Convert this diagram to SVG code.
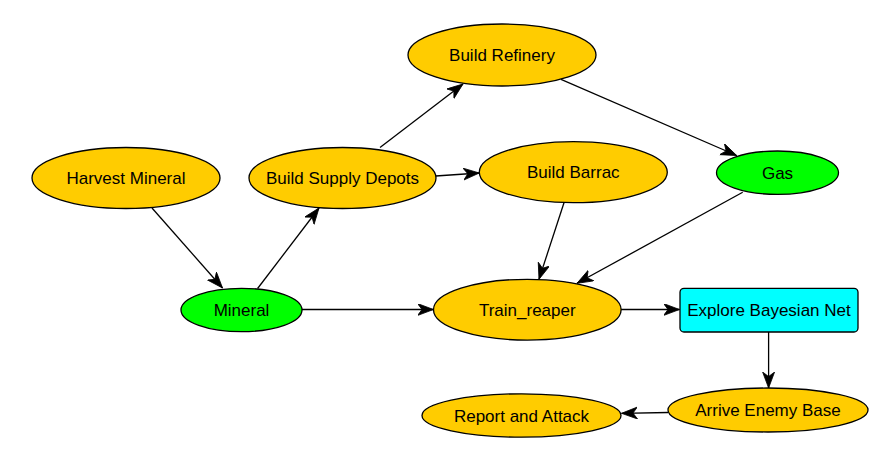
<svg xmlns="http://www.w3.org/2000/svg" width="874" height="452" viewBox="0 0 874 452">
<style>
.n{stroke:#000;stroke-width:1.3}
.o{fill:#ffcc00}
.g{fill:#00ff00}
.c{fill:#00ffff}
text{font-family:"Liberation Sans",Arial,sans-serif;font-size:17px;fill:#000;text-anchor:middle}
.e line{stroke:#000;stroke-width:1.3;marker-end:url(#ah)}
</style>
<defs>
<marker id="ah" markerUnits="userSpaceOnUse" markerWidth="18" markerHeight="14" refX="16" refY="6" orient="auto">
<path d="M0,0 L16,6 L0,12 L4.5,6 z" fill="#000" stroke="#000" stroke-width="0.8" stroke-linejoin="miter"/>
</marker>
</defs>
<rect width="874" height="452" fill="#fff"/>
<g class="e" id="edges">
<line x1="152" y1="208" x2="222.5" y2="288"/>
<line x1="257.6" y1="288.5" x2="319" y2="208"/>
<line x1="380" y1="147.5" x2="463" y2="84"/>
<line x1="435.7" y1="176" x2="479.3" y2="173"/>
<line x1="561" y1="79.3" x2="736.7" y2="155.5"/>
<line x1="564" y1="202.7" x2="539" y2="279.3"/>
<line x1="742.7" y1="192.3" x2="577" y2="283.3"/>
<line x1="302" y1="309.5" x2="433.5" y2="309.5"/>
<line x1="621" y1="309.5" x2="679.5" y2="309.5"/>
<line x1="768.6" y1="332" x2="768.6" y2="388"/>
<line x1="668" y1="412.5" x2="621.5" y2="413.3"/>
</g>
<g id="harvest"><ellipse class="n o" cx="126" cy="178" rx="94" ry="30.5"/><text x="126" y="184">Harvest Mineral</text></g>
<g id="depots"><ellipse class="n o" cx="342.5" cy="178" rx="93.5" ry="30.5"/><text x="342.5" y="184">Build Supply Depots</text></g>
<g id="refinery"><ellipse class="n o" cx="502" cy="55" rx="94" ry="31"/><text x="502" y="61">Build Refinery</text></g>
<g id="barrac"><ellipse class="n o" cx="573.3" cy="172.2" rx="94" ry="30.5"/><text x="573.3" y="178">Build Barrac</text></g>
<g id="gas"><ellipse class="n g" cx="777.5" cy="172.7" rx="61" ry="21.7"/><text x="777.5" y="178.5">Gas</text></g>
<g id="mineral"><ellipse class="n g" cx="241.5" cy="310" rx="60.5" ry="21.7"/><text x="241.5" y="316">Mineral</text></g>
<g id="train"><ellipse class="n o" cx="527.3" cy="309.7" rx="93.8" ry="30.4"/><text x="527.3" y="315.5">Train_reaper</text></g>
<g id="explore"><rect class="n c" x="680" y="288.3" width="178" height="43.7" rx="4" ry="4"/><text x="769" y="316">Explore Bayesian Net</text></g>
<g id="arrive"><ellipse class="n o" cx="768" cy="410" rx="100" ry="22"/><text x="768" y="416">Arrive Enemy Base</text></g>
<g id="report"><ellipse class="n o" cx="521.5" cy="415.5" rx="99.5" ry="21.7"/><text x="521.5" y="421.5">Report and Attack</text></g>
</svg>
